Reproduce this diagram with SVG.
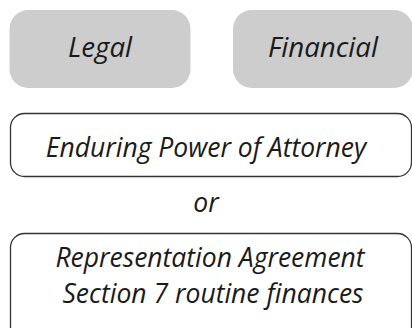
<svg xmlns="http://www.w3.org/2000/svg" width="412" height="328" viewBox="0 0 412 328">
  <style>
    .cat { fill: #cdcdcd; stroke: none; }
    .opt { fill: #ffffff; stroke: #333333; stroke-width: 1.3; }
    text { font-family: "Open Sans", "Noto Sans", sans-serif; font-style: italic; fill: #1a1a1a; text-anchor: middle; }
    .big { font-size: 27.7px; }
    .mid { font-size: 26.5px; }
  </style>
  <rect width="412" height="328" fill="#ffffff"/>
  <g id="legal">
    <rect class="cat" x="9.5" y="10" width="181" height="78" rx="19"/>
    <text class="big" x="100" y="57">Legal</text>
  </g>
  <g id="financial">
    <rect class="cat" x="233" y="10" width="180" height="78" rx="19"/>
    <text class="big" x="323" y="57">Financial</text>
  </g>
  <g id="epa">
    <rect class="opt" x="10.5" y="113.5" width="401" height="63" rx="14"/>
    <text class="mid" x="206" y="157">Enduring Power of Attorney</text>
  </g>
  <g id="or">
    <text class="mid" x="206" y="212">or</text>
  </g>
  <g id="ra">
    <rect class="opt" x="10.5" y="233.5" width="401" height="110" rx="14"/>
    <text class="mid" x="210" y="267">Representation Agreement</text>
    <text class="mid" x="213" y="303">Section 7 routine finances</text>
  </g>
  <g id="connectors"/>
</svg>
